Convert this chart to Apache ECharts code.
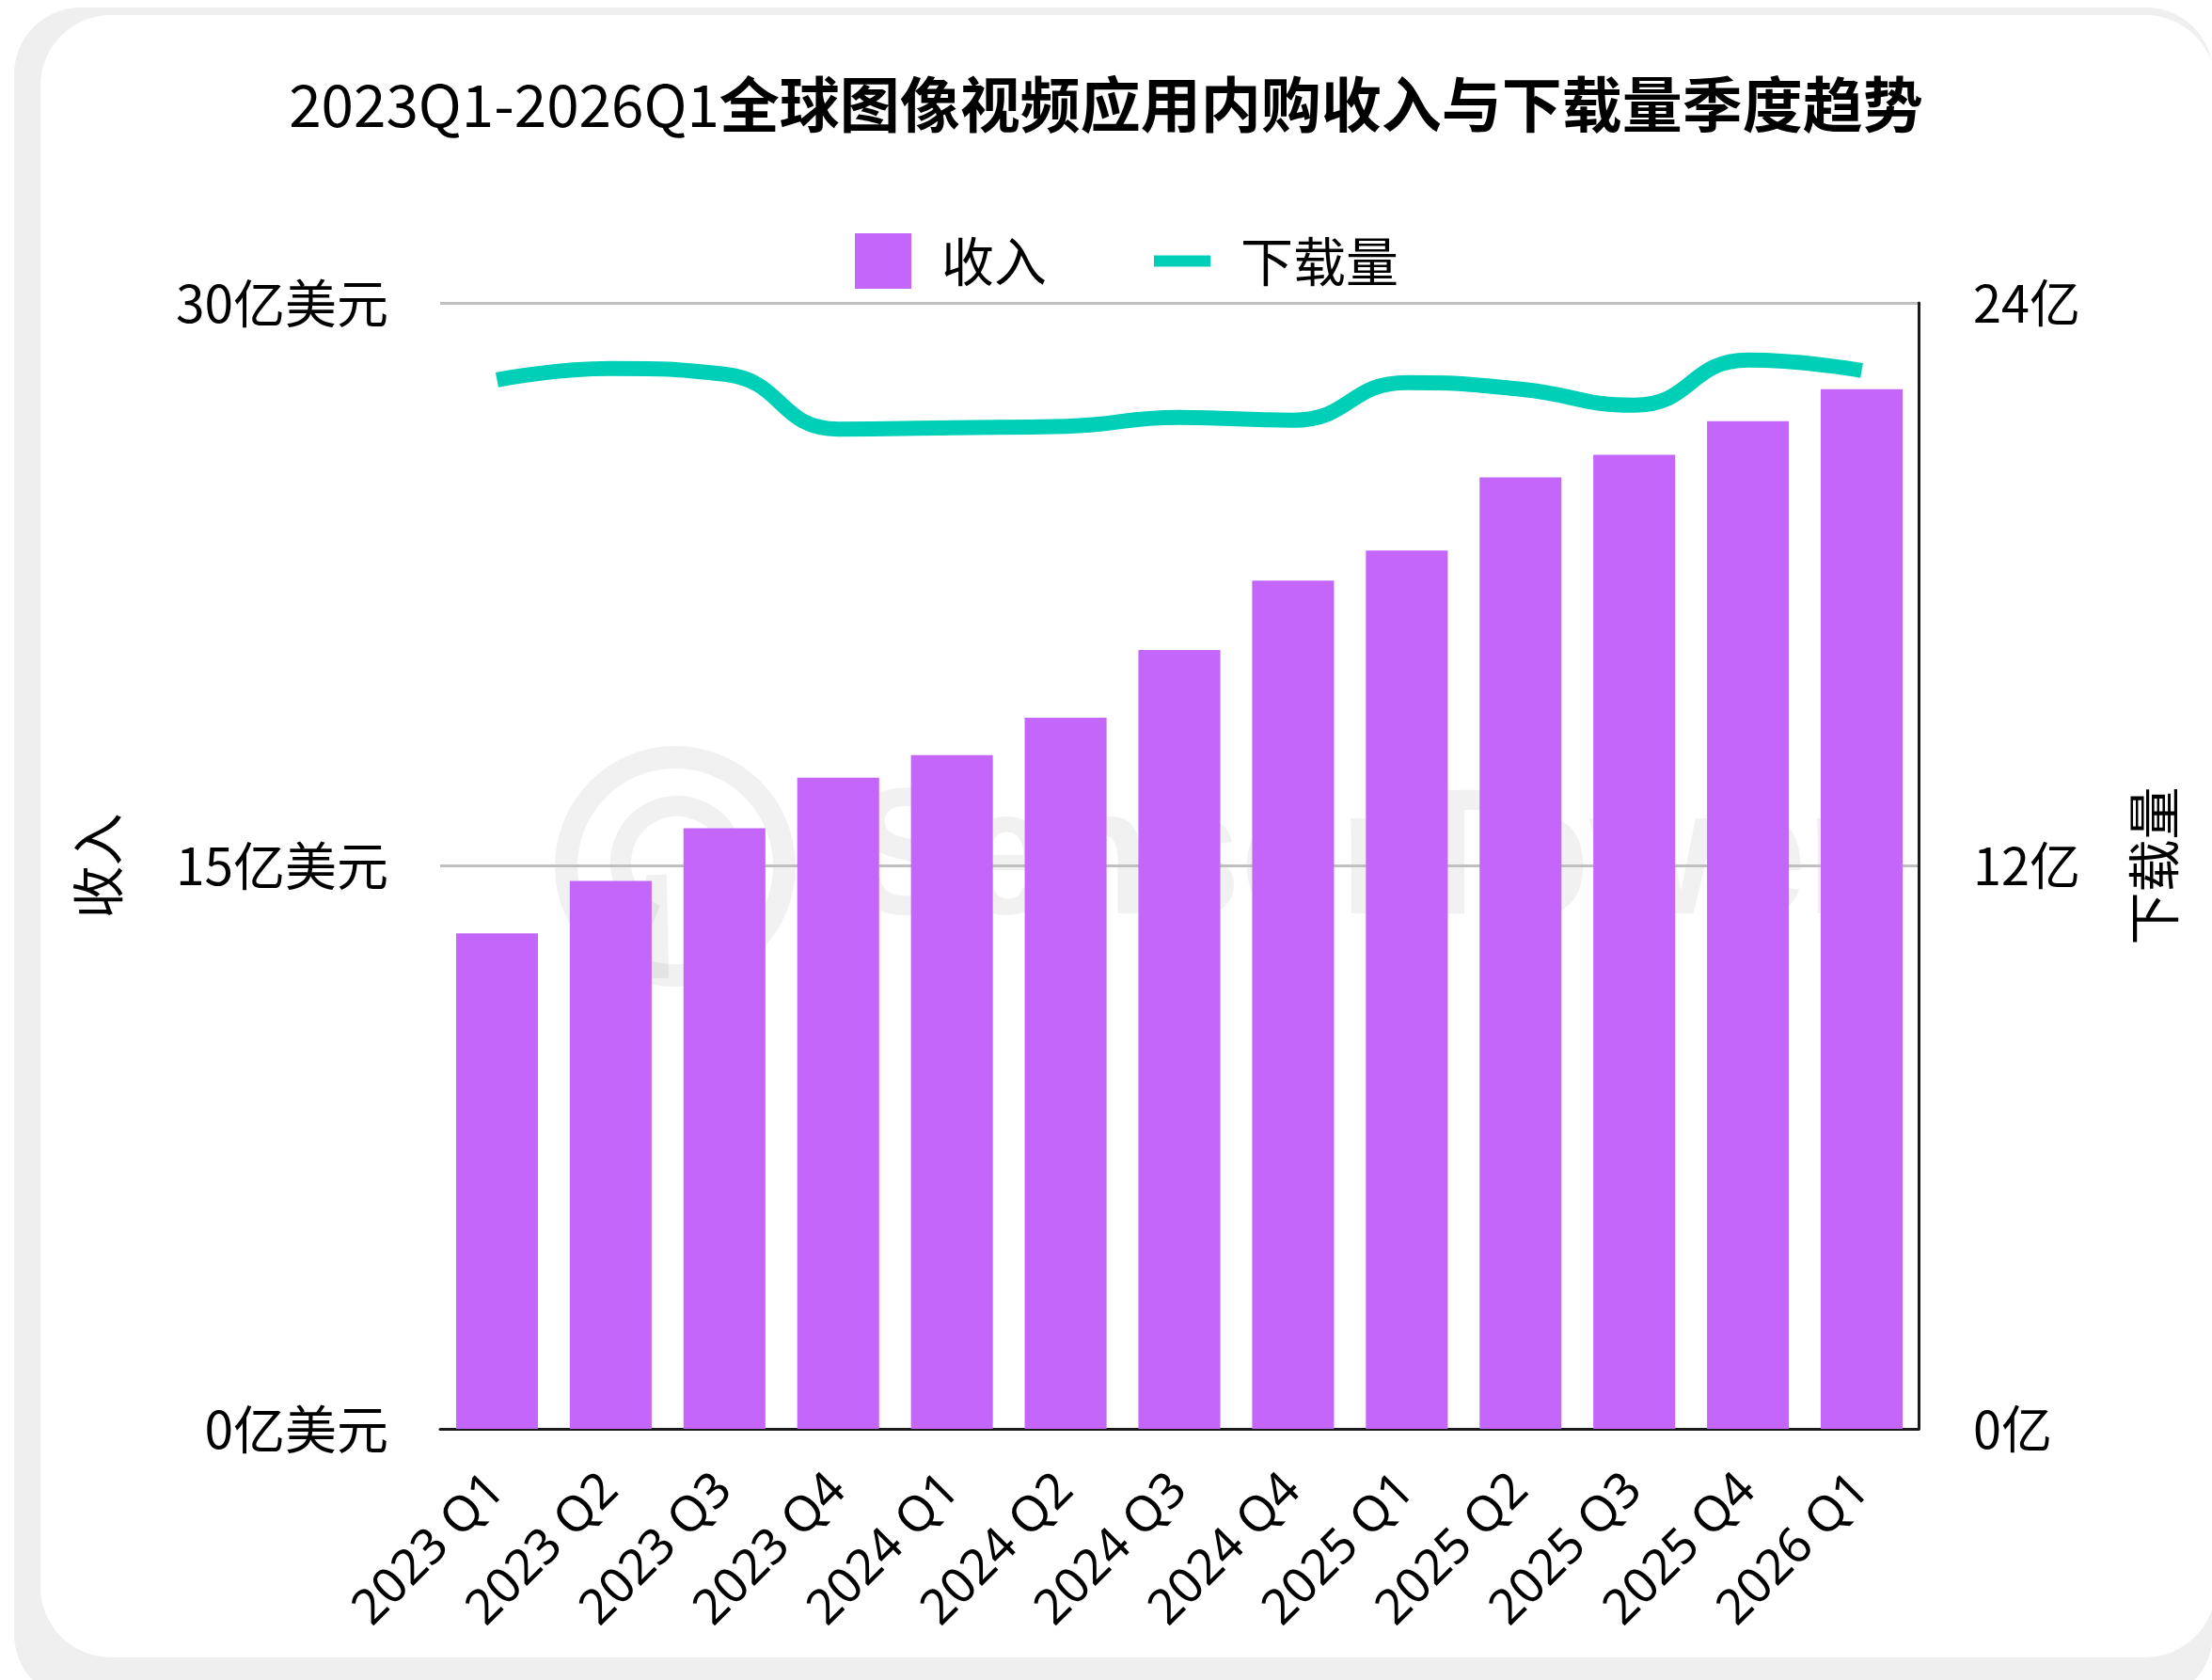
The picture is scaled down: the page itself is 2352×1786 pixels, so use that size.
<!DOCTYPE html>
<html>
<head>
<meta charset="utf-8">
<style>
  html, body { margin: 0; padding: 0; background: #ffffff; }
  #chart { width: 2352px; height: 1786px; }
</style>
<script src="https://cdn.jsdelivr.net/npm/echarts@6/dist/echarts.min.js"></script>
</head>
<body>
<div id="chart"></div>
<script>
// Quarterly in-app purchase revenue (亿美元) and downloads (亿) for photo & video apps
const quarters = ['2023 Q1', '2023 Q2', '2023 Q3', '2023 Q4', '2024 Q1', '2024 Q2', '2024 Q3',
                  '2024 Q4', '2025 Q1', '2025 Q2', '2025 Q3', '2025 Q4', '2026 Q1'];
const revenue = [13.2, 14.6, 16.0, 17.35, 17.95, 18.95, 20.75, 22.6, 23.4, 25.35, 25.95, 26.85, 27.7];
const downloads = [22.36, 22.6, 22.48, 21.31, 21.34, 21.37, 21.56, 21.5, 22.3, 22.16, 21.82, 22.78, 22.56];
const revenueTicks = { min: 0, max: 30, interval: 15 };
const downloadTicks = { min: 0, max: 24, interval: 12 };

const CJK = "'Noto Sans CJK SC', 'Noto Sans', sans-serif";
const PURPLE = '#c466fa';
const TEAL = '#00cfb8';
const MARK = 'rgba(0,0,0,0.055)';

const chart = echarts.init(document.getElementById('chart'), null, { renderer: 'canvas' });

chart.setOption({
  backgroundColor: '#ffffff',
  animation: false,
  title: {
    text: '{a|2023Q1-2026Q1}{b|全球图像视频应用内购收入与下载量季度趋势}',
    left: 'center',
    top: 74,
    textStyle: {
      rich: {
        a: { fontFamily: CJK, fontSize: 62, fontWeight: 'normal', color: '#000' },
        b: { fontFamily: CJK, fontSize: 64, fontWeight: 'bold', color: '#000' }
      }
    }
  },
  legend: {
    left: 904,
    top: 243,
    itemWidth: 60,
    itemHeight: 59,
    itemGap: 114,
    textStyle: { fontFamily: CJK, fontSize: 56, color: '#000', padding: [0, 0, 0, 27] },
    data: [
      { name: '收入', icon: 'rect' },
      { name: '下载量', icon: 'path://M0 0H56V11H0Z', itemStyle: { color: TEAL } }
    ]
  },
  grid: { left: 468, right: 312, top: 322, bottom: 267, containLabel: false },
  xAxis: {
    type: 'category',
    data: quarters,
    axisTick: { show: false },
    axisLine: { show: true, lineStyle: { color: '#1a1a1a', width: 3 } },
    axisLabel: {
      interval: 0,
      rotate: 45,
      margin: 57,
      fontFamily: "'Noto Sans', sans-serif",
      fontSize: 52,
      color: '#000'
    }
  },
  yAxis: [
    {
      type: 'value',
      position: 'left',
      min: revenueTicks.min,
      max: revenueTicks.max,
      interval: revenueTicks.interval,
      name: '收入',
      nameLocation: 'middle',
      nameGap: 336,
      nameTextStyle: { fontFamily: CJK, fontSize: 56, color: '#000' },
      axisLine: { show: false },
      axisTick: { show: false },
      axisLabel: { formatter: '{value}亿美元', margin: 55, fontFamily: CJK, fontSize: 55, color: '#000' },
      splitLine: { show: true, lineStyle: { color: '#bfbfbf', width: 3 } }
    },
    {
      type: 'value',
      position: 'right',
      min: downloadTicks.min,
      max: downloadTicks.max,
      interval: downloadTicks.interval,
      name: '下载量',
      nameLocation: 'middle',
      nameGap: 222,
      nameTextStyle: { fontFamily: CJK, fontSize: 56, color: '#000' },
      axisLine: { show: true, lineStyle: { color: '#1a1a1a', width: 3 } },
      axisTick: { show: false },
      axisLabel: { formatter: '{value}亿', margin: 58, fontFamily: CJK, fontSize: 54, color: '#000' },
      splitLine: { show: false }
    }
  ],
  series: [
    {
      name: '收入',
      type: 'bar',
      yAxisIndex: 0,
      data: revenue,
      barWidth: '72%',
      itemStyle: { color: PURPLE }
    },
    {
      name: '下载量',
      type: 'line',
      yAxisIndex: 1,
      data: downloads,
      smooth: true,
      symbol: 'none',
      lineStyle: { color: TEAL, width: 16 },
      itemStyle: { color: TEAL },
      z: 3
    }
  ],
  graphic: [
    // card frame: light grey rim behind a white rounded panel
    {
      type: 'rect', z: -10, silent: true,
      shape: { x: 15, y: 8, width: 2338, height: 1800, r: 71 },
      style: { fill: '#efefef' }
    },
    {
      type: 'rect', z: -9, silent: true,
      shape: { x: 43, y: 16, width: 2313, height: 1746, r: 75 },
      style: { fill: '#ffffff' }
    },
    // faint brand watermark over the plot
    {
      type: 'group', z: 100, silent: true,
      children: [
        {
          type: 'circle',
          shape: { cx: 718, cy: 921, r: 116 },
          style: { fill: 'none', stroke: MARK, lineWidth: 24 }
        },
        {
          type: 'arc',
          shape: { cx: 720, cy: 917, r: 60, startAngle: Math.PI * 0.62, endAngle: Math.PI * 2.45 },
          style: { fill: 'none', stroke: MARK, lineWidth: 22 }
        },
        {
          type: 'line',
          shape: { x1: 698, y1: 930, x2: 700, y2: 1040 },
          style: { stroke: MARK, lineWidth: 22 }
        },
        {
          type: 'text',
          x: 906, y: 918,
          scaleX: 0.9,
          style: {
            text: 'SensorTower',
            fontFamily: "'Liberation Sans', 'Noto Sans', sans-serif",
            fontWeight: 'bold',
            fontSize: 192,
            fill: MARK,
            verticalAlign: 'middle'
          }
        }
      ]
    }
  ]
});
</script>
</body>
</html>
